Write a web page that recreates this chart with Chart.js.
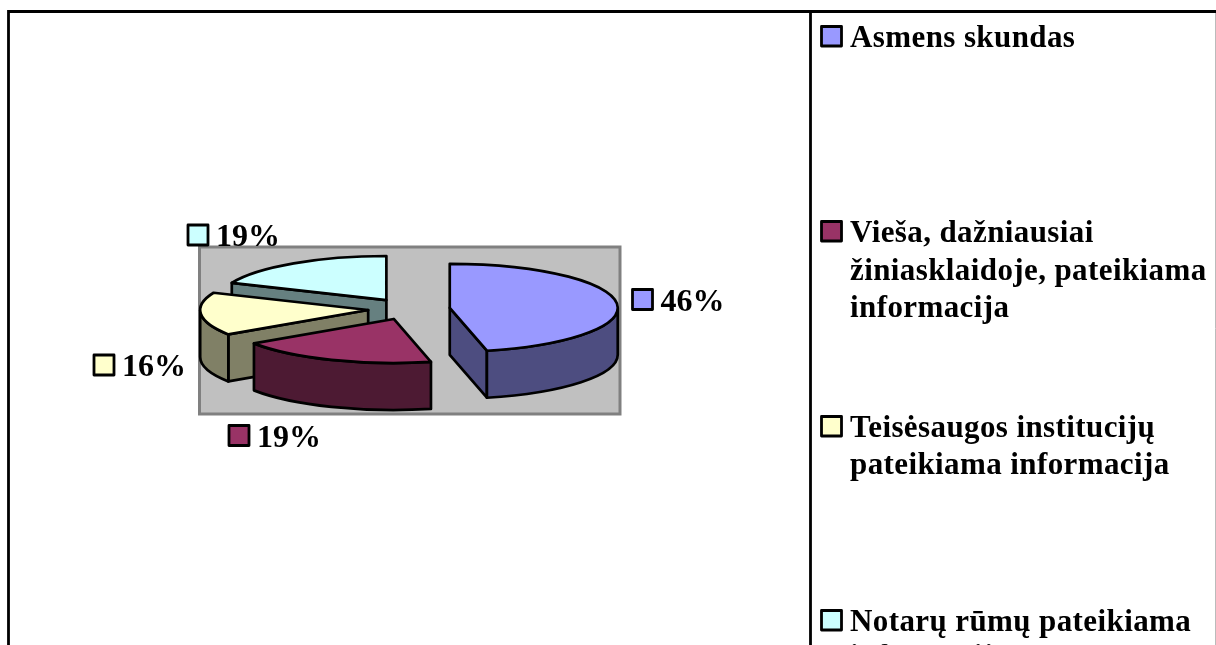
<!DOCTYPE html>
<html>
<head>
<meta charset="utf-8">
<style>
  html, body { margin: 0; padding: 0; background: #fff; overflow: hidden; }
  #wrap { position: absolute; left: 0; top: 0; width: 1216px; height: 645px; }
</style>
</head>
<body>
<div id="wrap"><canvas id="grafico" width="1216" height="645"></canvas></div>
<script src="https://cdn.jsdelivr.net/npm/chart.js@4"></script>
<script>
// Dados
const categorias = ['Asmens skundas', 'Vieša, dažniausiai žiniasklaidoje, pateikiama informacija', 'Teisėsaugos institucijų pateikiama informacija', 'Notarų rūmų pateikiama informacija'];
const valores = [46.45, 19.2, 15.75, 18.6];
const legendaLinhas = [['Asmens skundas'], ['Vieša, dažniausiai', 'žiniasklaidoje, pateikiama', 'informacija'], ['Teisėsaugos institucijų', 'pateikiama informacija'], ['Notarų rūmų pateikiama', 'informacija']];
const cores = ['#9999FF', '#993366', '#FFFFCC', '#CCFFFF'];
const coresLado = ['#4D4D80', '#4D1A33', '#808066', '#668080'];

// Aparência
const inclinacao = 0.262;
const profundidade = 47;
const explosao = 41;
const fonteRotulo = 'bold 32px "Liberation Serif"';
const fonteLegenda = 'bold 31px "Liberation Serif"';
const posRotulos = [[632.5, 289.5], [229, 425.5], [94, 355], [188, 225]];
const baseLegenda = [47, 242, 437, 631];
const passoLinha = [37, 37.5, 37, 35];

function projetar(c, x, y, dy) {
  return [x, c.y + (y - c.y) * inclinacao + (dy || 0)];
}

function desenharFatia(ctx, el, i) {
  const meio = (el.startAngle + el.endAngle) / 2;
  const c = { x: el.x + Math.cos(meio) * explosao, y: el.y + Math.sin(meio) * explosao };
  const centro = { x: el.x, y: el.y };
  const p = (ang, dy) => projetar(centro, c.x + Math.cos(ang) * el.outerRadius, c.y + Math.sin(ang) * el.outerRadius, dy);
  const a = projetar(centro, c.x, c.y, 0);
  const r = el.outerRadius;
  const ry = r * inclinacao;

  ctx.lineWidth = 2.7;
  ctx.lineJoin = 'round';
  ctx.strokeStyle = '#000';
  ctx.fillStyle = coresLado[i];

  // faces cortadas, só as que se veem
  const faces = [];
  if (Math.cos(el.startAngle) < -0.001) faces.push(el.startAngle);
  if (Math.cos(el.endAngle) > 0.001) faces.push(el.endAngle);
  faces.forEach(ang => {
    const q = p(ang, 0);
    ctx.beginPath();
    ctx.moveTo(a[0], a[1]);
    ctx.lineTo(q[0], q[1]);
    ctx.lineTo(q[0], q[1] + profundidade);
    ctx.lineTo(a[0], a[1] + profundidade);
    ctx.closePath();
    ctx.fill();
    ctx.stroke();
  });

  // parede exterior (só a parte da frente)
  const ini = Math.max(el.startAngle, 0);
  const fim = Math.min(el.endAngle, Math.PI);
  if (fim > ini) {
    ctx.beginPath();
    ctx.ellipse(a[0], a[1], r, ry, 0, ini, fim);
    ctx.ellipse(a[0], a[1] + profundidade, r, ry, 0, fim, ini, true);
    ctx.closePath();
    ctx.fill();
    ctx.stroke();
  }

  // topo
  ctx.fillStyle = cores[i];
  ctx.beginPath();
  ctx.moveTo(a[0], a[1]);
  ctx.ellipse(a[0], a[1], r, ry, 0, el.startAngle, el.endAngle);
  ctx.closePath();
  ctx.fill();
  ctx.stroke();
}

const pizza3d = {
  id: 'pizza3d',
  beforeDatasetsDraw(chart) {
    const ctx = chart.ctx;
    const arcos = chart.getDatasetMeta(0).data;

    // moldura
    ctx.save();
    ctx.fillStyle = '#fff';
    ctx.fillRect(0, 0, 1216, 645);
    ctx.strokeStyle = '#bbb';
    ctx.lineWidth = 1;
    ctx.beginPath();
    ctx.moveTo(1215.5, 12);
    ctx.lineTo(1215.5, 645);
    ctx.stroke();
    ctx.strokeStyle = '#000';
    ctx.lineWidth = 2.8;
    ctx.beginPath();
    ctx.moveTo(8.5, 645);
    ctx.lineTo(8.5, 11.5);
    ctx.lineTo(1216, 11.5);
    ctx.moveTo(810.5, 11.5);
    ctx.lineTo(810.5, 645);
    ctx.stroke();

    // área cinzenta
    ctx.fillStyle = '#C0C0C0';
    ctx.strokeStyle = '#808080';
    ctx.lineWidth = 3;
    ctx.fillRect(199.5, 247, 420.5, 167);
    ctx.strokeRect(199.5, 247, 420.5, 167);

    // de trás para a frente
    [3, 2, 1, 0].forEach(i => desenharFatia(ctx, arcos[i], i));

    // rótulos
    ctx.font = fonteRotulo;
    ctx.textBaseline = 'alphabetic';
    valores.forEach((v, i) => {
      const [x, y] = posRotulos[i];
      ctx.fillStyle = cores[i];
      ctx.strokeStyle = '#000';
      ctx.lineWidth = 2.8;
      ctx.fillRect(x, y, 20, 20);
      ctx.strokeRect(x, y, 20, 20);
      ctx.fillStyle = '#000';
      ctx.fillText(Math.round(v) + '%', x + 28, y + 21);
    });

    // legenda
    ctx.font = fonteLegenda;
    ctx.letterSpacing = '0.4px';
    legendaLinhas.forEach((linhas, i) => {
      const y = baseLegenda[i];
      ctx.fillStyle = cores[i];
      ctx.strokeStyle = '#000';
      ctx.lineWidth = 2.8;
      ctx.fillRect(821.5, y - 20.5, 20, 19.5);
      ctx.strokeRect(821.5, y - 20.5, 20, 19.5);
      ctx.fillStyle = '#000';
      linhas.forEach((t, j) => ctx.fillText(t, 850, y + j * passoLinha[i]));
    });
    ctx.restore();
    return false;
  }
};

new Chart(document.getElementById('grafico'), {
  type: 'pie',
  data: {
    labels: categorias,
    datasets: [{ data: valores, backgroundColor: cores, borderWidth: 0 }]
  },
  options: {
    responsive: false,
    animation: false,
    layout: { padding: { left: 241, right: 639, top: 141, bottom: 168 } },
    plugins: { legend: { display: false }, tooltip: { enabled: false } }
  },
  plugins: [pizza3d]
});
</script>
</body>
</html>
